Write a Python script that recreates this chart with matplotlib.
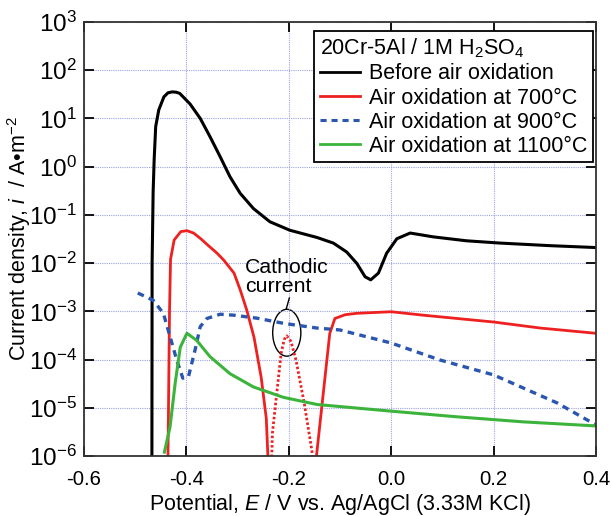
import numpy as np
import matplotlib
matplotlib.use("Agg")
import matplotlib.pyplot as plt
from matplotlib.patches import Ellipse
from matplotlib.lines import Line2D

plt.rcParams['font.family'] = ['Liberation Sans', 'DejaVu Sans']
plt.rcParams['mathtext.fontset'] = 'custom'
plt.rcParams['mathtext.rm'] = 'Liberation Sans'
plt.rcParams['mathtext.it'] = 'Liberation Sans:italic'

# Curvas de polarizacion, 20Cr-5Al en 1M H2SO4 (E en V, i en A/m2)
E_antes = [-0.4675, -0.467, -0.465, -0.463, -0.460, -0.454, -0.444, -0.436, -0.428,
           -0.420, -0.413, -0.393, -0.373, -0.354, -0.334, -0.315, -0.295, -0.269,
           -0.237, -0.198, -0.170, -0.145, -0.113, -0.087, -0.067, -0.051, -0.040,
           -0.025, -0.009, 0.011, 0.037, 0.082, 0.147, 0.213, 0.310, 0.400]
i_antes = [1e-7, 1e-2, 0.3, 1.4, 6.8, 15, 28, 34, 35.5,
           35, 33, 20, 10, 4.2, 1.6, 0.62, 0.28, 0.135,
           0.072, 0.048, 0.040, 0.034, 0.026, 0.017, 0.0098, 0.0052, 0.0045,
           0.0062, 0.016, 0.032, 0.042, 0.035, 0.029, 0.026, 0.023, 0.021]

E_700a = [-0.437, -0.435, -0.433, -0.431, -0.424, -0.411, -0.399, -0.386, -0.372,
          -0.355, -0.340, -0.327, -0.307, -0.295, -0.282, -0.268, -0.254, -0.244, -0.237]
i_700a = [1e-7, 1e-5, 1e-3, 0.012, 0.030, 0.045, 0.047, 0.042, 0.032,
          0.022, 0.016, 0.0115, 0.0062, 0.0028, 0.00105, 2.9e-4, 4.3e-5, 6e-6, 1e-7]
# corriente catodica (punteada)
E_700c = [-0.236, -0.232, -0.225, -0.215, -0.209, -0.204, -0.196, -0.186, -0.170, -0.155, -0.147]
i_700c = [1e-7, 3e-6, 1.45e-5, 1.35e-4, 2.6e-4, 3.1e-4, 2.4e-4, 9.8e-5, 1.26e-5, 1.3e-6, 1e-7]
E_700b = [-0.146, -0.120, -0.110, -0.090, -0.067, 0.000, 0.063, 0.200, 0.291, 0.400]
i_700b = [1e-6, 3.5e-4, 7.1e-4, 8.5e-4, 9.1e-4, 9.8e-4, 8.3e-4, 6.0e-4, 4.5e-4, 3.5e-4]

E_900 = [-0.495, -0.465, -0.445, -0.432, -0.419, -0.407, -0.396, -0.383, -0.373,
         -0.360, -0.334, -0.307, -0.262, -0.209, -0.145, -0.100, 0.000, 0.095,
         0.200, 0.324, 0.400]
i_900 = [2.4e-3, 1.7e-3, 9.1e-4, 3.0e-4, 9.8e-5, 4.1e-5, 4.4e-5, 1.6e-4, 4.8e-4,
         7.1e-4, 8.7e-4, 8.3e-4, 7.2e-4, 5.6e-4, 4.5e-4, 4.1e-4, 2.2e-4, 9.8e-5,
         4.8e-5, 1.26e-5, 4.4e-6]

E_1100 = [-0.443, -0.432, -0.422, -0.412, -0.399, -0.380, -0.354, -0.315, -0.269,
          -0.211, -0.145, 0.000, 0.128, 0.258, 0.400]
i_1100 = [1.2e-6, 4e-6, 3.2e-5, 1.8e-4, 3.5e-4, 2.5e-4, 1.15e-4, 5.1e-5, 2.7e-5,
          1.65e-5, 1.17e-5, 8.5e-6, 6.5e-6, 5.1e-6, 4.2e-6]

etiquetas = ["Before air oxidation", "Air oxidation at 700°C",
             "Air oxidation at 900°C", "Air oxidation at 1100°C"]
x_ticks = [-0.6, -0.4, -0.2, 0.0, 0.2, 0.4]
y_ticks = [1e-6, 1e-5, 1e-4, 1e-3, 1e-2, 1e-1, 1e0, 1e1, 1e2, 1e3]

rojo = '#ee2020'
azul = '#2a56b0'
verde = '#3cb43c'

fig = plt.figure(figsize=(6.11, 5.16), dpi=100)
ax = fig.add_axes([0.1375, 0.1163, 0.838, 0.8411])

ax.plot(E_antes, i_antes, color='black', lw=2.2, solid_joinstyle='round')
ax.plot(E_700a, i_700a, color=rojo, lw=2.0, solid_joinstyle='round')
ax.plot(E_700c, i_700c, color=rojo, lw=2.0, linestyle=(0, (0.9, 0.8)))
ax.plot(E_700b, i_700b, color=rojo, lw=2.0, solid_joinstyle='round')
ax.plot(E_900, i_900, color=azul, lw=2.4, linestyle=(0, (2.0, 1.6)))
ax.plot(E_1100, i_1100, color=verde, lw=2.2, solid_joinstyle='round')

ax.set_yscale('log')
ax.set_xlim(-0.6, 0.4)
ax.set_ylim(1e-6, 1e3)
ax.set_xticks(x_ticks)
ax.set_xticklabels([f"{v:.1f}" for v in x_ticks])
ax.yaxis.set_major_locator(matplotlib.ticker.FixedLocator(y_ticks))
ax.yaxis.set_major_formatter(matplotlib.ticker.LogFormatterMathtext())
ax.yaxis.set_minor_locator(matplotlib.ticker.NullLocator())
ax.tick_params(direction='in', length=7, width=1.3, top=True, right=True)
ax.tick_params(axis='x', labelsize=14.7, pad=10)
ax.tick_params(axis='y', labelsize=17.5, pad=5)
ax.grid(True, color='#9da3e0', linestyle=(0, (1, 1)), lw=0.8)
for s in ax.spines.values():
    s.set_linewidth(1.3)
    s.set_color('#333333')

ax.set_xlabel("Potential, $E$ / V vs. Ag/AgCl (3.33M KCl)", fontsize=15.5, va='baseline')
ax.xaxis.set_label_coords(0.5, -0.125)
ax.set_ylabel("Current density, $i$  / A\u2022m$^{-2}$", fontsize=15.5)
ax.yaxis.set_label_coords(-0.10, 0.5)

# Leyenda
manijas = [Line2D([], [], color='black', lw=2),
           Line2D([], [], color=rojo, lw=2),
           Line2D([], [], color=azul, lw=2.2, linestyle=(0, (2.0, 1.6))),
           Line2D([], [], color=verde, lw=2)]
leg = ax.legend(manijas, etiquetas, title="20Cr-5Al / 1M H$_2$SO$_4$",
                loc='upper right', bbox_to_anchor=(0.994, 0.979), fontsize=15.5,
                title_fontsize=15.5, fancybox=False, framealpha=1, edgecolor='black',
                handlelength=1.85, handletextpad=0.45, labelspacing=0.15,
                borderpad=0.25, borderaxespad=0, alignment='left')
leg.get_frame().set_linewidth(1.3)

# Anotacion de la corriente catodica
ax.add_patch(Ellipse((0.396, 0.284), 0.055, 0.108, transform=ax.transAxes,
                     fill=False, edgecolor='black', lw=1.0))
ax.plot([0.401, 0.395], [0.364, 0.339], color='black', lw=1.0, transform=ax.transAxes)
ax.text(0.315, 0.368, "Cathodic\ncurrent", transform=ax.transAxes, fontsize=15.3,
        ha='left', va='bottom', linespacing=1.0)

fig.savefig('out.png', dpi=100)
